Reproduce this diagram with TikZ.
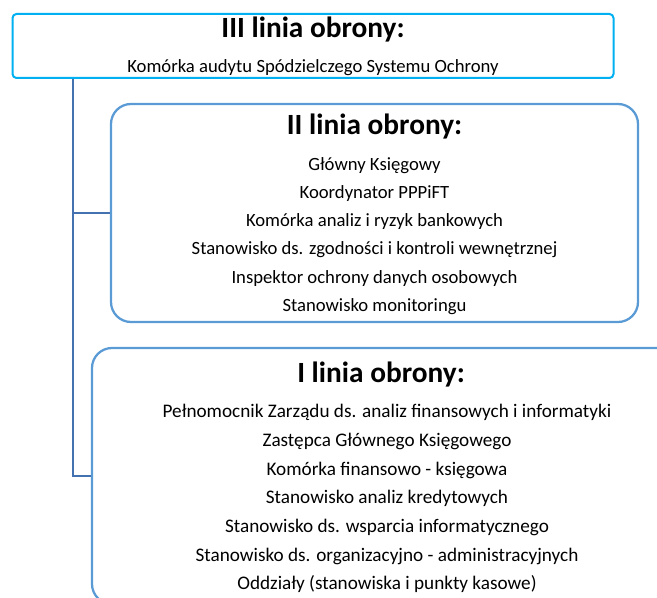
\documentclass[tikz,border=0pt]{standalone}
\usepackage{fontspec}
\setmainfont{Carlito}
\usepackage{xcolor}
\usepackage{tikz}
\usetikzlibrary{positioning,calc}
\definecolor{lineiii}{RGB}{0, 176, 240}
\definecolor{lineframe}{RGB}{91, 155, 213}
\definecolor{linktrunk}{RGB}{68, 114, 176}
\tikzset{
    toplevel/.style={rectangle, draw=lineiii, line width=1.5pt, rounded corners=3pt,
                     minimum width=450.75pt, minimum height=48pt},
    level/.style={rectangle, draw=lineframe, line width=1.7pt, rounded corners=15pt},
    heading/.style={anchor=base, inner sep=0pt, font=\fontsize{22}{24}\selectfont\bfseries},
    entry/.style={anchor=base, inner sep=0pt, font=\fontsize{14}{16}\selectfont},
    link/.style={draw=linktrunk, line width=1.5pt},
}

\begin{document}
\begin{tikzpicture}[x=0.75pt, y=-0.75pt]
        \useasboundingbox (0,0) rectangle (657,598);

        % Frames
        \node [toplevel] (lvl3) at (313,46) {};
        \node [level, minimum width=395.25pt, minimum height=163.5pt] (lvl2) at (374.5,213) {};
        \node [level, minimum width=442.5pt, minimum height=192pt] (lvl1) at (387,476) {};

        % III linia
        \node [heading] (h3) at (313,37.3) {III linia obrony:};
        \node [entry]   (a3) at (313,72.5) {Komórka audytu Spódzielczego Systemu Ochrony};

        % II linia
        \node [heading] (h2) at (374.5,135) {II linia obrony:};
        \node [entry]   (b1) at (374.5,170.1) {Główny Księgowy};
        \node [entry]   (b2) at (374.5,198.4) {Koordynator PPPiFT};
        \node [entry]   (b3) at (374.5,226.7) {Komórka analiz i ryzyk bankowych};
        \node [entry]   (b4) at (374.5,255.0) {Stanowisko ds. zgodności i kontroli wewnętrznej};
        \node [entry]   (b5) at (374.5,283.4) {Inspektor ochrony danych osobowych};
        \node [entry]   (b6) at (374.5,311.7) {Stanowisko monitoringu};

        % I linia
        \node [heading] (h1) at (381,383) {I linia obrony:};
        \node [entry, font=\fontsize{14.4}{16}\selectfont] (c1) at (387,418.0) {Pełnomocnik Zarządu ds. analiz finansowych i informatyki};
        \node [entry, font=\fontsize{14.4}{16}\selectfont] (c2) at (387,446.6) {Zastępca Głównego Księgowego};
        \node [entry, font=\fontsize{14.4}{16}\selectfont] (c3) at (387,475.2) {Komórka finansowo - księgowa};
        \node [entry, font=\fontsize{14.4}{16}\selectfont] (c4) at (387,503.8) {Stanowisko analiz kredytowych};
        \node [entry, font=\fontsize{14.4}{16}\selectfont] (c5) at (387,532.4) {Stanowisko ds. wsparcia informatycznego};
        \node [entry, font=\fontsize{14.4}{16}\selectfont] (c6) at (387,561.0) {Stanowisko ds. organizacyjno - administracyjnych};
        \node [entry, font=\fontsize{14.4}{16}\selectfont] (c7) at (387,589.6) {Oddziały (stanowiska i punkty kasowe)};

        % Trunk
        \coordinate (trunk) at (73,0);
        \draw[link] (trunk |- lvl3.south) |- (lvl2.west);
        \draw[link] (trunk |- lvl3.south) |- (lvl1.west);
    \end{tikzpicture}
\end{document}
